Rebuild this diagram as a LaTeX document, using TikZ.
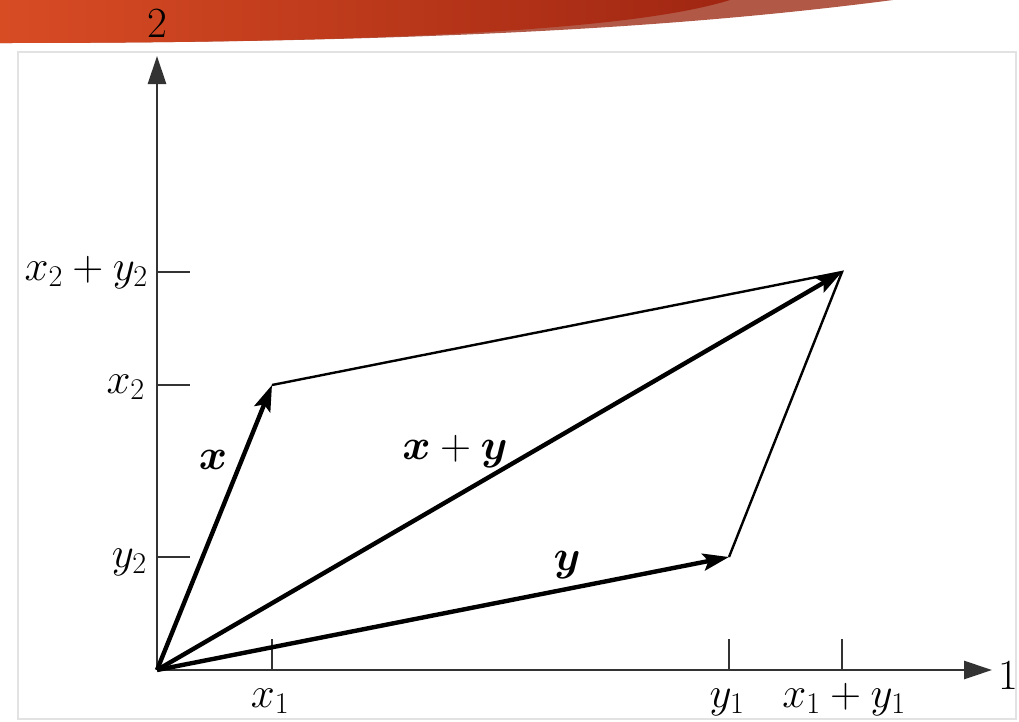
\RequirePackage{fix-cm}
\documentclass[tikz,border=0pt]{standalone}
\usepackage{amsmath}
\usepackage{bm}
\usepackage{tikz}
\usetikzlibrary{arrows.meta}

\definecolor{bannerL}{RGB}{216,76,36}
\definecolor{bannerR}{RGB}{160,38,18}
\definecolor{swoosh}{RGB}{178,88,70}
\definecolor{frame}{RGB}{226,226,226}

\begin{document}
\begin{tikzpicture}[x=1pt, y=-1pt,
  axis/.style={line width=2.8pt, draw=black!80, -{Triangle[length=28pt,width=18pt]}},
  vec/.style={line width=4.4pt, -{Stealth[length=26pt,width=17pt,inset=5pt]}},
  side/.style={line width=2.4pt},
  tickmark/.style={line width=2.8pt, draw=black!80},
  lbl/.style={font=\fontsize{43}{50}\selectfont, inner sep=0pt},
  >={Stealth[]}]
\useasboundingbox (0,0) rectangle (1019,721);
% slide decoration
\fill[swoosh] (0,0) -- (0,43) .. controls (450,43) and (700,25) .. (893,0) -- cycle;
\shade[left color=bannerL, right color=bannerR] (0,0) -- (0,43) .. controls (450,43) and (650,25) .. (730,0) -- cycle;
\draw[frame, line width=2pt] (18,52) rectangle (1016,719);
% points
\coordinate (O) at (157,670);
\coordinate (X) at (272,385);
\coordinate (Y) at (729,557);
\coordinate (S) at (842,272);
\coordinate (e1) at (992,670);
\coordinate (e2) at (157,56);
% axes
\draw[axis] (O) -- (e1);
\draw[axis] (O) -- (e2);
\node[lbl] (n1) at (1008,675) {1};
\node[lbl] (n2) at (157,23) {2};
% ticks
\foreach \p/\n in {X/tx1, Y/ty1, S/ts1} {
  \coordinate (\n) at (O -| \p);
  \draw[tickmark] (\n) -- ++(0,-31);
}
\foreach \p/\n in {X/tx2, Y/ty2, S/ts2} {
  \coordinate (\n) at (O |- \p);
  \draw[tickmark] (\n) -- ++(33,0);
}
\node[lbl, anchor=base] (lx1) at (270,707) {$x_1$};
\node[lbl, anchor=base] (ly1) at (727,707) {$y_1$};
\node[lbl, anchor=base] (ls1) at (844,707) {$x_1 + y_1$};
\node[lbl, anchor=base east] (lx2) at (145,393) {$x_2$};
\node[lbl, anchor=base east] (ly2) at (147,567) {$y_2$};
\node[lbl, anchor=base east] (ls2) at (148,280) {$x_2 + y_2$};
% parallelogram
\draw[side] (X) -- (S) -- (Y);
% vectors
\draw[vec] (O) -- (X);
\draw[vec] (O) -- (Y);
\draw[vec] (O) -- (S);
\node[lbl] (vx) at (213,460) {$\bm{x}$};
\node[lbl] (vs) at (455,452) {$\bm{x} + \bm{y}$};
\node[lbl] (vy) at (567,565) {$\bm{y}$};
\end{tikzpicture}
\end{document}
